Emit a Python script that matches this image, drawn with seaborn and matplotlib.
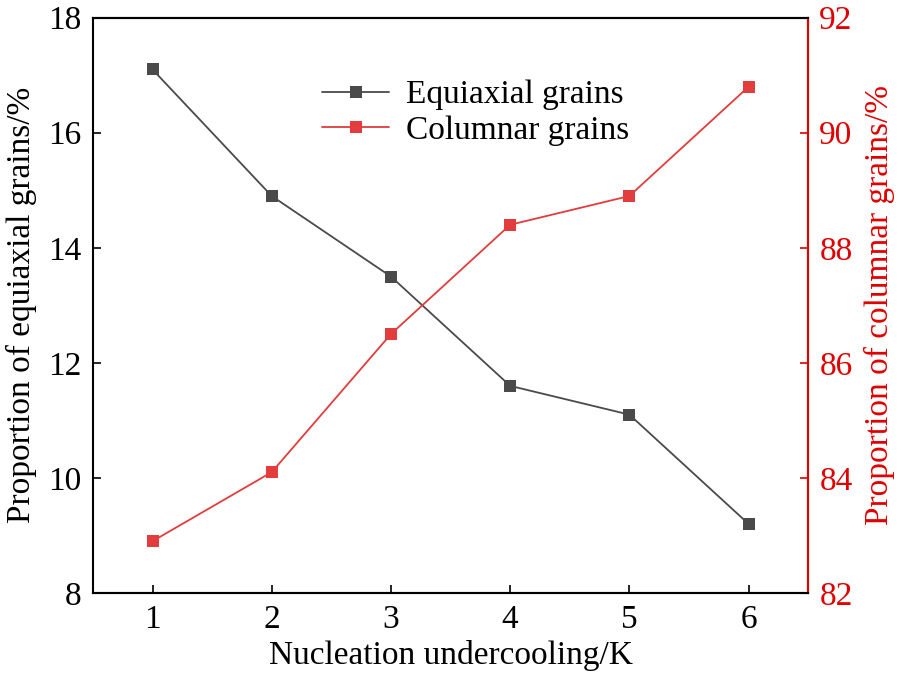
import pandas as pd
import matplotlib.pyplot as plt
import seaborn as sns

# data
undercooling = [1, 2, 3, 4, 5, 6]
equiaxial = [17.1, 14.9, 13.5, 11.6, 11.1, 9.2]
columnar = [82.9, 84.1, 86.5, 88.4, 88.9, 90.8]

df = pd.DataFrame({'K': undercooling, 'Equiaxial': equiaxial, 'Columnar': columnar})

sns.set_style('ticks')
plt.rcParams['font.family'] = ['Liberation Serif', 'DejaVu Serif']
plt.rcParams['text.color'] = 'black'
plt.rcParams['axes.labelcolor'] = 'black'
plt.rcParams['xtick.color'] = 'black'
plt.rcParams['ytick.color'] = 'black'

gray = '#4a4a4a'
red = '#e23c3c'
fs = 24

fig = plt.figure(figsize=(9.02, 6.8), dpi=100)
ax = fig.add_axes([0.103, 0.128, 0.793, 0.846])
ax2 = ax.twinx()

sns.lineplot(data=df, x='K', y='Equiaxial', ax=ax, color=gray, marker='s',
             markersize=8, markeredgewidth=0, linewidth=1.3, label='Equiaxial grains', legend=False)
sns.lineplot(data=df, x='K', y='Columnar', ax=ax2, color=red, marker='s',
             markersize=8, markeredgewidth=0, linewidth=1.3, label='Columnar grains', legend=False)

ax.set_xlim(0.5, 6.5)
ax.set_ylim(8, 18)
ax2.set_ylim(82, 92)
ax.set_xticks(undercooling)
ax.set_yticks([8, 10, 12, 14, 16, 18])
ax2.set_yticks([82, 84, 86, 88, 90, 92])

ax.set_xlabel('Nucleation undercooling/K', fontsize=fs, labelpad=4)
ax.set_ylabel('Proportion of equiaxial grains/%', fontsize=fs, labelpad=8)
ax2.set_ylabel('Proportion of columnar grains/%', fontsize=fs, color='#e00000', labelpad=8)

ax.tick_params(direction='in', length=6, width=1.2, labelsize=fs, pad=8)
ax2.tick_params(direction='in', length=6, width=1.2, labelsize=fs, colors='#e00000', pad=8)

for a in (ax, ax2):
    for s in a.spines.values():
        s.set_linewidth(1.5)
        s.set_color('black')
ax2.spines['right'].set_color('#e00000')
ax2.spines['left'].set_visible(False)

h1, l1 = ax.get_legend_handles_labels()
h2, l2 = ax2.get_legend_handles_labels()
ax2.legend(h1 + h2, l1 + l2, loc='upper left', bbox_to_anchor=(0.302, 0.915), frameon=False,
           fontsize=fs, handlelength=2.0, handletextpad=0.5, labelspacing=0.15, borderaxespad=0)

fig.savefig('out.png', dpi=100)
